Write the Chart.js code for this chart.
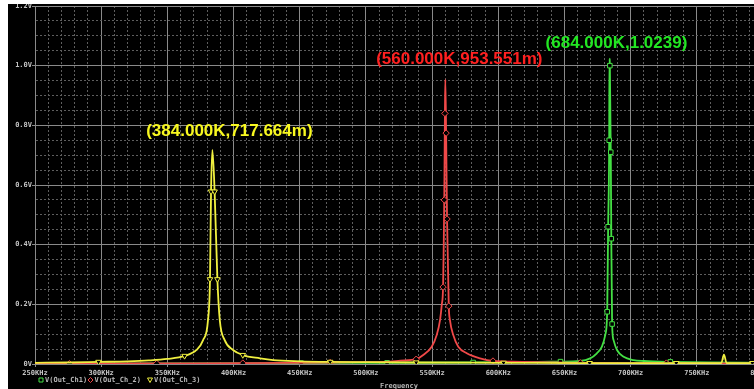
<!DOCTYPE html>
<html>
<head>
<meta charset="utf-8">
<script src="https://cdn.jsdelivr.net/npm/chart.js@4/dist/chart.umd.min.js"></script>
<style>
  html, body { margin: 0; padding: 0; background: #fff; overflow: hidden; }
  #wrap { position: absolute; left: 8px; top: 4px; width: 760px; height: 385px; background: #000; }
</style>
</head>
<body>
<div id="wrap"><canvas id="chart" width="760" height="385"></canvas></div>
<script>
// frequency in KHz, voltage in V
const ch1Freq = [250, 350, 451, 516, 581, 630, 647, 662, 669.4, 674.5, 678.3, 680.8, 682.3, 683.0, 683.8, 684.0, 684.3, 685.0, 685.4, 686.0, 687.1, 689.7, 694.7, 702.2, 710, 730, 760, 800];
const ch1Volt = [0.002, 0.002, 0.003, 0.004, 0.005, 0.007, 0.008, 0.010, 0.019, 0.036, 0.058, 0.097, 0.175, 0.46, 0.75, 1.0239, 1.00, 0.71, 0.42, 0.134, 0.080, 0.047, 0.024, 0.013, 0.010, 0.007, 0.005, 0.004];
const ch1Marks = [451, 516, 581, 647, 682.3, 683.0, 683.8, 684.3, 685.0, 685.4, 686.0, 730];

const ch2Freq = [250, 276, 342, 407, 473, 500, 518, 526, 538, 543.3, 549.7, 553.5, 556.0, 557.3, 558.3, 558.8, 559.2, 559.7, 560.0, 560.6, 561.3, 562.6, 563.5, 566.0, 569.8, 576.2, 586.2, 596, 610, 630, 662, 700, 727, 800];
const ch2Volt = [0.001, 0.001, 0.002, 0.003, 0.005, 0.006, 0.008, 0.011, 0.016, 0.030, 0.058, 0.097, 0.147, 0.198, 0.258, 0.40, 0.55, 0.84, 0.9536, 0.774, 0.486, 0.194, 0.147, 0.097, 0.058, 0.036, 0.019, 0.010, 0.008, 0.006, 0.004, 0.003, 0.003, 0.002];
const ch2Marks = [276, 342, 407, 473, 538, 558.3, 559.2, 559.7, 560.6, 561.3, 562.6, 596, 662, 727];

const ch3Freq = [250, 276, 298, 320, 336, 350, 363, 372, 377, 380.7, 382.2, 383.0, 384.0, 385.7, 387.8, 389.6, 393.3, 399.6, 407, 420, 430, 450, 473, 500, 538, 604, 669, 734.5, 768.5, 770.5, 772.5, 792, 800];
const ch3Volt = [0.004, 0.005, 0.007, 0.009, 0.012, 0.017, 0.027, 0.047, 0.080, 0.147, 0.284, 0.578, 0.7177, 0.578, 0.284, 0.147, 0.080, 0.047, 0.030, 0.019, 0.013, 0.009, 0.007, 0.006, 0.005, 0.004, 0.003, 0.003, 0.003, 0.031, 0.003, 0.003, 0.003];
const ch3Marks = [298, 363, 382.2, 383.0, 385.7, 387.8, 407, 473, 538, 604, 669, 734.5, 792];

const seriesNames = ['V(Out_Ch1)', 'V(Out_Ch_2)', 'V(Out_Ch_3)'];
const peakLabels = ['(684.000K,1.0239)', '(560.000K,953.551m)', '(384.000K,717.664m)'];
const peakFreq = [684, 560, 384];
const peakVolt = [1.0239, 0.953551, 0.717664];

const xTickLabels = ['250KHz', '300KHz', '350KHz', '400KHz', '450KHz', '500KHz', '550KHz', '600KHz', '650KHz', '700KHz', '750KHz', '800KHz'];
const yTickLabels = ['0V', '0.2V', '0.4V', '0.6V', '0.8V', '1.0V', '1.2V'];

const lineColors = ['#44e044', '#f04848', '#f0f040'];
const textColors = ['#22e622', '#ff2020', '#f8f820'];
const labelShift = [[7, -15], [14, -20], [17, -19]];

const tickFont = { family: 'DejaVu Sans Mono', size: 7, weight: 'bold' };
const majorGrid = '#8a8a8a';
const minorGrid = '#5e5e5e';

function points(freq, volt) {
  return freq.map((f, i) => ({ x: f, y: volt[i] }));
}

function makeSet(i, freq, volt, marks, style, rotation) {
  return {
    label: seriesNames[i],
    data: points(freq, volt),
    borderColor: lineColors[i],
    borderWidth: 1.8,
    cubicInterpolationMode: 'monotone',
    pointStyle: style,
    pointRotation: rotation,
    pointRadius: ctx => marks.includes(ctx.raw.x) ? 3.2 : 0,
    pointBorderColor: lineColors[i],
    pointBackgroundColor: '#000',
    pointBorderWidth: 1,
    order: 3 - i
  };
}

const xMajor = v => Math.round(v) % 50 === 0;
const yMajor = v => Math.round(v * 100) % 20 === 0;

// peak labels, legend and the x title
const overlay = {
  id: 'overlay',
  afterDatasetsDraw(chart) {
    const { ctx, scales: { x, y } } = chart;
    ctx.save();
    ctx.font = 'bold 17px "Liberation Sans", Arial, sans-serif';
    ctx.textAlign = 'center';
    ctx.textBaseline = 'middle';
    peakFreq.forEach((f, i) => {
      ctx.fillStyle = textColors[i];
      ctx.fillText(peakLabels[i], x.getPixelForValue(f) + labelShift[i][0], y.getPixelForValue(peakVolt[i]) + labelShift[i][1]);
    });
    ctx.restore();
  },
  afterDraw(chart) {
    const { ctx, chartArea } = chart;
    ctx.save();
    ctx.font = 'bold 7px "DejaVu Sans Mono"';
    ctx.textBaseline = 'middle';
    ctx.textAlign = 'left';
    ctx.lineWidth = 1;
    const ly = 376;
    const mx = [33, 82.5, 142];
    mx.forEach((cx, i) => {
      ctx.strokeStyle = lineColors[i];
      ctx.beginPath();
      if (i === 0) {
        ctx.rect(cx - 2, ly - 2, 4, 4);
      } else if (i === 1) {
        ctx.moveTo(cx, ly - 2.5); ctx.lineTo(cx + 2.5, ly); ctx.lineTo(cx, ly + 2.5); ctx.lineTo(cx - 2.5, ly); ctx.closePath();
      } else {
        ctx.moveTo(cx - 2.5, ly - 2); ctx.lineTo(cx + 2.5, ly - 2); ctx.lineTo(cx, ly + 2.5); ctx.closePath();
      }
      ctx.stroke();
      ctx.fillStyle = '#b8b8b8';
      ctx.fillText(seriesNames[i], cx + 4, ly);
    });
    ctx.textAlign = 'center';
    ctx.textBaseline = 'top';
    ctx.fillText('Frequency', (chartArea.left + chartArea.right) / 2, 379);
    ctx.restore();
  }
};

new Chart(document.getElementById('chart'), {
  type: 'line',
  data: {
    datasets: [
      makeSet(0, ch1Freq, ch1Volt, ch1Marks, 'rect', 0),
      makeSet(1, ch2Freq, ch2Volt, ch2Marks, 'rectRot', 0),
      makeSet(2, ch3Freq, ch3Volt, ch3Marks, 'triangle', 180)
    ]
  },
  options: {
    responsive: false,
    devicePixelRatio: 1,
    animation: false,
    layout: { padding: { top: 2, right: 5, left: 0, bottom: 0 } },
    plugins: { legend: { display: false }, tooltip: { enabled: false } },
    scales: {
      x: {
        type: 'linear',
        min: 250,
        max: 800,
        afterFit(s) { s.height = 25; s.paddingLeft = 0; s.paddingRight = 0; },
        ticks: {
          stepSize: 10,
          autoSkip: false,
          maxRotation: 0,
          padding: 2,
          color: '#c4c4c4',
          font: tickFont,
          callback: v => xMajor(v) ? xTickLabels[Math.round((v - 250) / 50)] : ''
        },
        grid: {
          color: ctx => xMajor(ctx.tick.value) ? majorGrid : minorGrid,
          lineWidth: 1,
          tickLength: 3,
          tickColor: ctx => xMajor(ctx.tick.value) ? majorGrid : 'rgba(0,0,0,0)'
        },
        border: {
          color: majorGrid,
          dash: ctx => (ctx.tick && !xMajor(ctx.tick.value)) ? [2, 2] : []
        }
      },
      y: {
        min: 0,
        max: 1.2,
        afterFit(s) { s.width = 27; s.paddingTop = 0; s.paddingBottom = 0; },
        ticks: {
          stepSize: 0.05,
          autoSkip: false,
          padding: 0,
          color: '#c4c4c4',
          font: tickFont,
          callback: v => yMajor(v) ? yTickLabels[Math.round(v * 5)] : ''
        },
        grid: {
          color: ctx => yMajor(ctx.tick.value) ? majorGrid : minorGrid,
          lineWidth: 1,
          tickLength: 3,
          tickColor: ctx => yMajor(ctx.tick.value) ? majorGrid : 'rgba(0,0,0,0)'
        },
        border: {
          color: majorGrid,
          dash: ctx => (ctx.tick && !yMajor(ctx.tick.value)) ? [2, 2] : []
        }
      }
    }
  },
  plugins: [overlay]
});
</script>
</body>
</html>
